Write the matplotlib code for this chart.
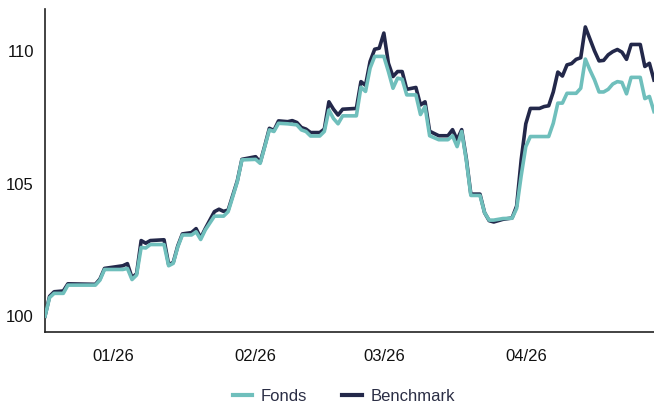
import matplotlib
matplotlib.use("Agg")
import matplotlib.pyplot as plt
import matplotlib.dates as mdates
import pandas as pd

plt.rcParams['font.family'] = ['Liberation Sans', 'DejaVu Sans']

start_date = "2025-12-17"
day_offsets = [0, 1, 2, 4, 5, 11, 12, 13, 17, 18,
               19, 20, 21, 22, 23, 26, 27, 28, 29, 30,
               32, 33, 34, 35, 37, 38, 39, 40, 41, 42,
               43, 46, 47, 48, 49, 50, 51, 53, 54, 55,
               56, 57, 58, 60, 61, 62, 63, 64, 65, 68,
               69, 70, 71, 72, 73, 74, 75, 76, 77, 78,
               79, 81, 82, 83, 84, 86, 88, 89, 90, 91,
               92, 93, 95, 96, 97, 98, 100, 102, 103, 104,
               105, 106, 108, 109, 110, 111, 112, 113, 114, 115,
               116, 117, 118, 119, 120, 121, 122, 123, 124, 125,
               126, 127, 128, 130, 131, 132, 133]

fonds = [100.0, 100.7, 100.86, 100.86, 101.17, 101.17, 101.36, 101.76, 101.76, 101.8,
         101.38, 101.55, 102.59, 102.57, 102.7, 102.7, 101.9, 101.99, 102.61, 103.06,
         103.06, 103.18, 102.89, 103.25, 103.77, 103.77, 103.77, 103.94, 104.5, 105.07,
         105.89, 105.91, 105.76, 106.39, 107.02, 106.96, 107.27, 107.25, 107.23, 107.21,
         107.02, 106.96, 106.79, 106.79, 106.96, 107.77, 107.45, 107.25, 107.55, 107.55,
         108.63, 108.47, 109.35, 109.79, 109.79, 109.79, 109.22, 108.59, 108.97, 108.93,
         108.34, 108.34, 107.6, 107.9, 106.8, 106.65, 106.65, 106.8, 106.39, 106.96,
         105.89, 104.55, 104.55, 103.9, 103.62, 103.62, 103.68, 103.69, 104.06, 105.3,
         106.39, 106.77, 106.77, 106.77, 106.77, 107.27, 108.03, 108.03, 108.4, 108.4,
         108.4, 108.59, 109.69, 109.28, 108.91, 108.45, 108.45, 108.55, 108.75, 108.84,
         108.81, 108.38, 109.0, 109.0, 108.2, 108.28, 107.71]

benchmark = [100.0, 100.75, 100.92, 100.95, 101.22, 101.2, 101.4, 101.8, 101.9, 101.98,
             101.45, 101.6, 102.85, 102.75, 102.85, 102.88, 101.95, 102.02, 102.65, 103.1,
             103.15, 103.3, 102.95, 103.3, 103.94, 104.03, 103.95, 104.0, 104.55, 105.1,
             105.91, 106.01, 105.8, 106.42, 107.08, 107.0, 107.36, 107.33, 107.37, 107.3,
             107.11, 107.05, 106.92, 106.92, 107.05, 108.08, 107.8, 107.58, 107.8, 107.83,
             108.84, 108.7, 109.6, 110.06, 110.1, 110.67, 109.53, 109.03, 109.22, 109.22,
             108.55, 108.62, 107.96, 108.08, 106.97, 106.8, 106.8, 107.03, 106.65, 107.03,
             105.95, 104.6, 104.6, 103.9, 103.6, 103.55, 103.65, 103.7, 104.15, 105.9,
             107.25, 107.83, 107.83, 107.9, 107.93, 108.45, 109.2, 109.05, 109.47, 109.52,
             109.68, 109.74, 110.9, 110.45, 110.0, 109.62, 109.64, 109.85, 109.97, 110.05,
             109.95, 109.68, 110.24, 110.24, 109.41, 109.53, 108.9]

series_labels = ["Fonds", "Benchmark"]
x_ticks = ["2026-01-01", "2026-02-01", "2026-03-01", "2026-04-01"]
y_ticks = [100, 105, 110]

teal = "#6FBFBC"
navy = "#23284A"

dates = pd.Timestamp(start_date) + pd.to_timedelta(day_offsets, unit="D")

fig = plt.figure(figsize=(6.54, 4.05), dpi=100)
ax = fig.add_axes([0.0688, 0.180, 0.9312, 0.798])

lb, = ax.plot(dates, benchmark, color=navy, lw=2.6, label=series_labels[1], zorder=2)
lf, = ax.plot(dates, fonds, color=teal, lw=2.6, label=series_labels[0], zorder=3)

ax.set_xlim(dates[0], dates[-1])
ax.set_ylim(99.40, 111.58)
ax.set_yticks(y_ticks)
ax.set_yticklabels([str(v) for v in y_ticks])
ax.set_xticks(pd.to_datetime(x_ticks))
ax.xaxis.set_major_formatter(mdates.DateFormatter("%m/%y"))
ax.tick_params(axis="both", length=0, labelsize=12, colors="#111111")
ax.tick_params(axis="y", pad=8)
ax.tick_params(axis="x", pad=12)

for s in ["top", "right"]:
    ax.spines[s].set_visible(False)
for s in ["left", "bottom"]:
    ax.spines[s].set_color("#222222")
    ax.spines[s].set_linewidth(1.2)

leg = fig.legend(handles=[lf, lb], labels=series_labels, loc="center",
                 bbox_to_anchor=(0.526, 0.022), ncol=2, frameon=False,
                 fontsize=12, handlelength=1.15, handletextpad=0.55,
                 columnspacing=2.1)
for t in leg.get_texts():
    t.set_color("#2B2E45")
for h in leg.get_lines():
    h.set_linewidth(3)

fig.savefig("out.png", dpi=100)
